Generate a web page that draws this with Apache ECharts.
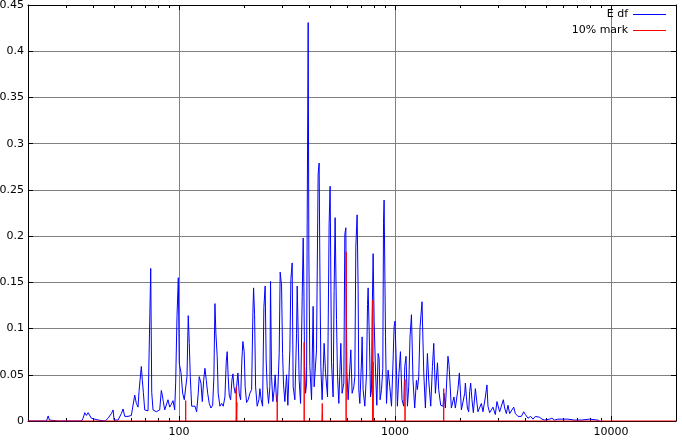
<!DOCTYPE html>
<html><head><meta charset="utf-8">
<script src="https://cdn.jsdelivr.net/npm/echarts@6/dist/echarts.min.js"></script>
<style>html,body{margin:0;padding:0;background:#fff}#c{width:682px;height:440px}</style>
</head><body><div id="c"></div>
<script>
// Frequency (Hz) of each sample of the "E df" curve
const edfFreq = [
  20, 24.35, 24.8, 25.14, 27.6, 28.03, 28.5, 35.4, 35.98, 36.64,
  37.27, 37.96, 38.65, 39.31, 40.03, 40.76, 41.47, 42.22, 45.5, 46.12,
  46.96, 47.82, 48.64, 49.54, 50.07, 52.24, 53.3, 54.1, 55.09, 56.1,
  57.07, 58.1, 59.17, 60.18, 61.28, 62.4, 63.48, 64.63, 65.33, 66.51,
  66.94, 67.66, 68.39, 69.41, 70.61, 71.9, 73.21, 74.0, 74.79, 75.83,
  77.22, 78.54, 79.97, 81.43, 82.83, 83.72, 84.62, 85.89, 87.36, 88.94,
  90.58, 92.12, 93.83, 95.52, 96.54, 97.9, 99.3, 100.3, 102.2, 104.0,
  105.8, 107.4, 108.9, 110.4, 111.6, 112.8, 114.5, 116.4, 118.6, 120.7,
  122.8, 124.1, 126.4, 128.2, 130.1, 131.9, 133.8, 135.8, 138.1, 140.6,
  143.2, 145.1, 146.7, 148.2, 150.3, 151.9, 154.7, 157.6, 160.3, 163.2,
  165.5, 167.2, 169.0, 170.8, 173.4, 175.8, 177.7, 179.6, 182.1, 184.8,
  187.4, 190.0, 192.9, 195.5, 197.6, 200.4, 202.5, 205.6, 209.1, 213.0,
  216.9, 219.9, 221.5, 223.9, 226.3, 230.2, 234.4, 236.9, 240.2, 243.8,
  247.2, 250.6, 253.3, 256.0, 259.8, 263.5, 265.4, 268.3, 272.1, 275.9,
  278.8, 283.0, 286.1, 291.0, 294.1, 298.5, 301.7, 304.9, 309.2, 314.8,
  319.2, 322.5, 326.1, 329.6, 334.2, 337.8, 344.0, 350.3, 352.6, 356.4,
  360.1, 365.6, 371.9, 375.9, 378.7, 381.5, 385.6, 389.7, 392.2, 396.4,
  399.3, 403.5, 410.9, 417.9, 422.4, 428.7, 433.3, 440.8, 445.5, 448.9,
  453.7, 460.0, 470.0, 477.1, 487.3, 495.6, 500.9, 508.4, 517.1, 522.7,
  528.3, 536.2, 542.0, 549.6, 561.4, 569.2, 579.7, 585.9, 592.2, 598.5,
  606.9, 624.6, 633.3, 644.9, 651.8, 658.8, 668.0, 675.2, 680.0, 687.5,
  700.0, 704.5, 712.0, 725.1, 738.4, 746.3, 751.1, 762.4, 770.6, 778.8,
  783.8, 792.2, 800.7, 812.7, 824.0, 835.5, 844.3, 853.4, 866.2, 878.3,
  884.9, 890.6, 904.0, 913.7, 929.4, 946.4, 963.7, 980.2, 990.7, 1000,
  1011, 1026, 1041, 1060, 1078, 1098, 1110, 1125, 1142, 1158,
  1174, 1192, 1212, 1234, 1257, 1270, 1288, 1306, 1334, 1359,
  1383, 1413, 1433, 1464, 1491, 1512, 1539, 1573, 1594, 1628,
  1669, 1686, 1711, 1759, 1779, 1824, 1875, 1903, 1944, 1956,
  1987, 2009, 2030, 2065, 2103, 2118, 2141, 2164, 2194, 2218,
  2241, 2272, 2306, 2356, 2389, 2422, 2467, 2512, 2555, 2621,
  2666, 2695, 2744, 2794, 2842, 2915, 2965, 2997, 3052, 3108,
  3175, 3219, 3278, 3336, 3396, 3458, 3545, 3609, 3711, 3779,
  3848, 3943, 4015, 4128, 4249, 4354, 4467, 4563, 4676, 4792,
  4933, 5199, 5328, 5483, 5678, 5987, 6318, 6784, 7284, 7960,
  8697, 8855
];
// "E df" values
const edfVal = [
  0, 0, 0.0055, 0.001, 0, 0.001, 0, 0, 0.003, 0.009,
  0.006, 0.009, 0.007, 0.003, 0.001, 0.002, 0, 0.001, 0, 0.001,
  0.003, 0.005, 0.008, 0.012, 0.001, 0.001, 0.002, 0.008, 0.013, 0.005,
  0.003, 0.005, 0.006, 0.006, 0.008, 0.028, 0.019, 0.015, 0.032, 0.030,
  0.059, 0.044, 0.031, 0.012, 0.010, 0.011, 0.013, 0.165, 0.031, 0.012,
  0.010, 0.010, 0.011, 0.012, 0.033, 0.028, 0.021, 0.012, 0.012, 0.023,
  0.015, 0.018, 0.022, 0.012, 0.042, 0.113, 0.155, 0.0625, 0.052, 0.030,
  0.023, 0.021, 0.048, 0.114, 0.084, 0.048, 0.016, 0.017, 0.016, 0.010,
  0.030, 0.048, 0.041, 0.021, 0.044, 0.057, 0.044, 0.030, 0.019, 0.014,
  0.017, 0.048, 0.127, 0.095, 0.070, 0.030, 0.016, 0.019, 0.016, 0.026,
  0.064, 0.075, 0.048, 0.028, 0.023, 0.044, 0.051, 0.037, 0.030, 0.037,
  0.052, 0.030, 0.023, 0.066, 0.086, 0.075, 0.037, 0.020, 0.023, 0.030,
  0.034, 0.117, 0.144, 0.115, 0.037, 0.016, 0.023, 0.035, 0.023, 0.016,
  0.123, 0.146, 0.066, 0.037, 0.019, 0.037, 0.151, 0.048, 0.021, 0.034,
  0.050, 0.021, 0.026, 0.073, 0.161, 0.146, 0.073, 0.039, 0.021, 0.050,
  0.017, 0.017, 0.077, 0.153, 0.171, 0.037, 0.023, 0.095, 0.146, 0.095,
  0.044, 0.019, 0.135, 0.198, 0.144, 0.059, 0.030, 0.041, 0.214, 0.431,
  0.182, 0.059, 0.023, 0.124, 0.037, 0.037, 0.077, 0.267, 0.279, 0.171,
  0.059, 0.023, 0.084, 0.052, 0.026, 0.214, 0.254, 0.063, 0.026, 0.140,
  0.220, 0.110, 0.048, 0.019, 0.084, 0.030, 0.041, 0.202, 0.209, 0.055,
  0.023, 0.077, 0.030, 0.037, 0.048, 0.189, 0.223, 0.142, 0.034, 0.019,
  0.066, 0.091, 0.034, 0.016, 0.052, 0.126, 0.144, 0.081, 0.026, 0.034,
  0.113, 0.181, 0.108, 0.054, 0.017, 0.073, 0.068, 0.023, 0.034, 0.057,
  0.214, 0.239, 0.091, 0.019, 0.055, 0.037, 0.016, 0.066, 0.102, 0.108,
  0.073, 0.016, 0.048, 0.075, 0.023, 0.016, 0.059, 0.070, 0.016, 0.037,
  0.091, 0.115, 0.044, 0.014, 0.044, 0.034, 0.048, 0.101, 0.129, 0.052,
  0.014, 0.073, 0.044, 0.016, 0.059, 0.084, 0.030, 0.063, 0.034, 0.017,
  0.016, 0.030, 0.014, 0.070, 0.061, 0.014, 0.026, 0.014, 0.012, 0.034,
  0.052, 0.052, 0.012, 0.010, 0.030, 0.041, 0.026, 0.014, 0.010, 0.032,
  0.041, 0.023, 0.009, 0.035, 0.035, 0.010, 0.008, 0.019, 0.010, 0.026,
  0.039, 0.016, 0.009, 0.012, 0.015, 0.007, 0.021, 0.021, 0.010, 0.009,
  0.023, 0.014, 0.008, 0.017, 0.008, 0.007, 0.015, 0.008, 0.005, 0.003,
  0.005, 0.010, 0.007, 0.003, 0.005, 0.002, 0.005, 0.003, 0.004, 0.002,
  0.001, 0.002, 0.003, 0.001, 0.002, 0.002, 0.002, 0.001, 0.001, 0.002,
  0.001, 0
];
// "10% mark" bins (frequency, value); zero elsewhere over the whole range
const markFreq = [107.4, 184.2, 185.4, 285.0, 379.9, 460.5, 461.5, 594.1, 789.7, 792.2, 1113, 1681];
const markVal  = [0.022, 0.037, 0.020, 0.029, 0.085, 0.019, 0.008, 0.183, 0.131, 0.064, 0.045, 0.035];

const xMin = 20, xMax = 20000;
const xMajorTicks = [100, 1000, 10000];
const xMinorTicks = [30, 40, 50, 60, 70, 80, 90, 200, 300, 400, 500, 600, 700, 800, 900,
                     2000, 3000, 4000, 5000, 6000, 7000, 8000, 9000];
const yMin = 0, yMax = 0.45, yStep = 0.05;
const seriesNames = ['E df', '10% mark'];
const seriesColors = ['#0000ff', '#ff0000'];

const edfData = edfFreq.map((f, i) => [f, edfVal[i]]);
const markData = [[xMin, 0]];
markFreq.forEach((f, i) => { markData.push([f, 0], [f, markVal[i]], [f, 0]); });
markData.push([xMax, 0]);

const FONT = 'DejaVu Sans';
const black = '#000';
const gridGray = '#808080';

function xAx(pos, ticks, len, showLine, showLabel, showSplit) {
  return {
    type: 'log', logBase: 10, min: xMin, max: xMax, position: pos, gridIndex: 0,
    axisLine: { show: showLine, onZero: false, lineStyle: { color: black, width: 1 } },
    axisTick: { show: true, inside: true, length: len, customValues: ticks, lineStyle: { color: black, width: 1 } },
    axisLabel: { show: showLabel, customValues: xMajorTicks, margin: 6, color: black, fontFamily: FONT, fontSize: 11,
                 formatter: v => String(Math.round(v)) },
    splitLine: { show: showSplit, lineStyle: { color: gridGray, width: 1 } },
    minorTick: { show: false }, minorSplitLine: { show: false }
  };
}
function yAx(pos, showLabel, showSplit) {
  return {
    type: 'value', min: yMin, max: yMax, interval: yStep, position: pos, gridIndex: 0,
    axisLine: { show: true, onZero: false, lineStyle: { color: black, width: 1 } },
    axisTick: { show: true, inside: true, length: 5, lineStyle: { color: black, width: 1 } },
    axisLabel: { show: showLabel, margin: 4, color: black, fontFamily: FONT, fontSize: 11 },
    splitLine: { show: showSplit, showMinLine: false, showMaxLine: false, lineStyle: { color: gridGray, width: 1 } }
  };
}
function leg(name, color, top) {
  return {
    data: [{ name: name, icon: 'rect', itemStyle: { color: color, opacity: 1, borderWidth: 0 } }],
    right: 16, top: top, orient: 'vertical', align: 'right', padding: 0,
    itemWidth: 33, itemHeight: 1, selectedMode: false,
    itemStyle: { color: color, opacity: 1, borderWidth: 0 },
    textStyle: { fontFamily: FONT, fontSize: 11, color: black }
  };
}

const chart = echarts.init(document.getElementById('c'), null, { renderer: 'canvas' });
chart.setOption({
  animation: false,
  backgroundColor: '#fff',
  textStyle: { fontFamily: FONT },
  grid: { left: 28, right: 6, top: 5, bottom: 19, containLabel: false, outerBoundsMode: 'none' },
  legend: [leg(seriesNames[0], seriesColors[0], 9), leg(seriesNames[1], seriesColors[1], 25)],
  xAxis: [
    xAx('bottom', xMajorTicks, 5, true, true, true),
    xAx('bottom', xMinorTicks, 3, false, false, false),
    xAx('top', xMajorTicks, 5, true, false, false),
    xAx('top', xMinorTicks, 3, false, false, false)
  ],
  yAxis: [yAx('left', true, true), yAx('right', false, false)],
  series: [
    { name: seriesNames[0], type: 'line', xAxisIndex: 0, yAxisIndex: 0, data: edfData,
      symbol: 'none', showSymbol: false, silent: true,
      lineStyle: { color: seriesColors[0], width: 1 }, itemStyle: { color: seriesColors[0] }, emphasis: { disabled: true } },
    { name: seriesNames[1], type: 'line', xAxisIndex: 0, yAxisIndex: 0, data: markData,
      symbol: 'none', showSymbol: false, silent: true,
      lineStyle: { color: seriesColors[1], width: 1 }, itemStyle: { color: seriesColors[1] }, emphasis: { disabled: true } }
  ]
});
</script>
</body></html>
